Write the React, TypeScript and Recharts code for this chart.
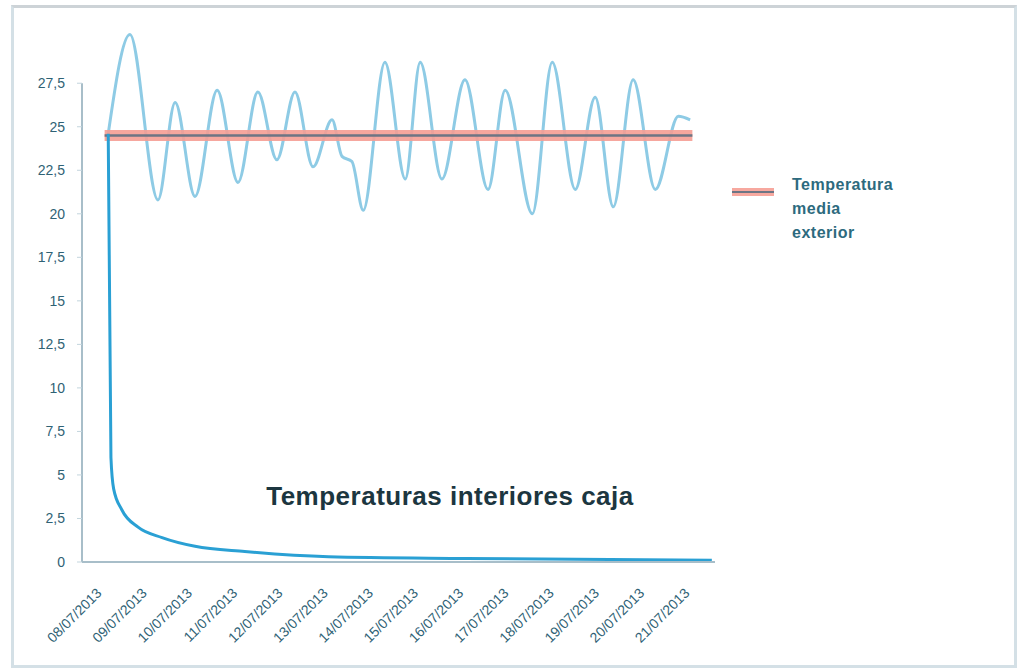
import React from 'react';
import { LineChart, Line, XAxis, YAxis, ReferenceLine } from 'recharts';

const dateLabels = [
  '08/07/2013', '09/07/2013', '10/07/2013', '11/07/2013', '12/07/2013', '13/07/2013', '14/07/2013',
  '15/07/2013', '16/07/2013', '17/07/2013', '18/07/2013', '19/07/2013', '20/07/2013', '21/07/2013',
];
const dayTicks = [0, 1, 2, 3, 4, 5, 6, 7, 8, 9, 10, 11, 12, 13];
const tempTicks = [0, 2.5, 5, 7.5, 10, 12.5, 15, 17.5, 20, 22.5, 25, 27.5];

// Outside temperature (light blue oscillating line)
const exteriorDays = [0.08, 0.56, 1.18, 1.56, 2.0, 2.49, 2.95, 3.39, 3.81, 4.21, 4.61, 5.03, 5.25, 5.47, 5.72, 6.2, 6.65, 6.98, 7.46, 7.97, 8.48, 8.86, 9.46, 9.9, 10.41, 10.85, 11.25, 11.69, 12.18, 12.69, 12.95];
const exteriorTemps = [24.6, 30.3, 20.8, 26.4, 21.0, 27.1, 21.8, 27.0, 23.1, 27.0, 22.7, 25.4, 23.3, 23.0, 20.2, 28.7, 22.0, 28.7, 22.0, 27.7, 21.4, 27.1, 20.0, 28.7, 21.4, 26.7, 20.4, 27.7, 21.4, 25.6, 25.4];

// Interior box temperature (dark blue decaying curve)
const interiorDays = [0.08, 0.14, 0.2, 0.38, 0.74, 1.27, 2.0, 3.1, 4.95, 8.0, 13.43];
const interiorTemps = [24.6, 6.0, 4.2, 3.0, 2.0, 1.4, 0.9, 0.6, 0.3, 0.2, 0.1];

// Mean outside temperature (red line)
const meanDays = [0, 13];
const meanTemps = [24.5, 24.5];
const meanName = 'Temperatura media exterior';
const chartTitle = 'Temperaturas interiores caja';

const exteriorData = exteriorDays.map((d, i) => ({ d, v: exteriorTemps[i] }));
const interiorData = interiorDays.map((d, i) => ({ d, v: interiorTemps[i] }));
const meanData = meanDays.map((d, i) => ({ d, v: meanTemps[i] }));

const FONT = '"Liberation Sans", Arial, sans-serif';
const TICK_COLOR = '#2f6275';

const XTick = (props: any) => {
  const { x, y, payload } = props;
  const ax = x - 2;
  const ay = y + 24;
  return (
    <text
      x={ax}
      y={ay}
      transform={`rotate(-45, ${ax}, ${ay})`}
      textAnchor="end"
      fontSize={14}
      fontFamily={FONT}
      fill={TICK_COLOR}
    >
      {dateLabels[payload.value]}
    </text>
  );
};

const LegendBox = () => (
  <div style={{ position: 'absolute', left: 727, top: 170, fontFamily: FONT, display: 'flex', alignItems: 'flex-start' }}>
    <svg width={50} height={30} style={{ display: 'block' }}>
      <line x1={5} y1={22} x2={47} y2={22} stroke="#f7a89f" strokeWidth={8} />
      <line x1={5} y1={22} x2={47} y2={22} stroke="#6d7584" strokeWidth={2} />
    </svg>
    <div style={{ marginLeft: 15, marginTop: 3 }}>
      {meanName.split(' ').map((w) => (
        <div
          key={w}
          style={{ fontSize: 16, fontWeight: 'bold', letterSpacing: 0.5, lineHeight: '24px', color: '#2d6a7e' }}
        >
          {w}
        </div>
      ))}
    </div>
  </div>
);

export default function App() {
  return (
    <div style={{ position: 'absolute', left: 0, top: 0, width: 1023, height: 670, background: '#ffffff' }}>
      <div
        style={{
          position: 'absolute',
          left: 11,
          top: 5,
          width: 1000,
          height: 657,
          border: '3px solid #d4e0e6',
          borderTopColor: '#cdd3d7',
        }}
      />
      <div style={{ position: 'absolute', left: 0, top: 0 }}>
        <LineChart width={1023} height={670} margin={{ top: 31, right: 308, left: 0, bottom: 0 }}>
          <XAxis
            type="number"
            dataKey="d"
            domain={[-0.5, 13.5]}
            ticks={dayTicks}
            interval={0}
            height={108}
            tick={<XTick />}
            tickLine={false}
            axisLine={{ stroke: '#a8bec9', strokeWidth: 2 }}
          />
          <YAxis
            type="number"
            dataKey="v"
            domain={[0, 30.5]}
            ticks={tempTicks}
            interval={0}
            width={82}
            axisLine={false}
            tickLine={{ stroke: '#c3d5dd' }}
            tickSize={5}
            tickMargin={12}
            tickFormatter={(v: number) => String(v).replace('.', ',')}
            tick={{ fontSize: 14, fontFamily: FONT, fill: TICK_COLOR }}
          />
          <ReferenceLine
            segment={[{ x: -0.5, y: 0 }, { x: -0.5, y: 27.5 }]}
            stroke="#a8bec9"
            strokeWidth={2}
            ifOverflow="visible"
          />
          <Line
            data={exteriorData}
            dataKey="v"
            name="Temperatura exterior"
            type="monotone"
            stroke="#8ecbe5"
            strokeWidth={3}
            dot={false}
            legendType="none"
            isAnimationActive={false}
          />
          <Line
            data={meanData}
            dataKey="v"
            name={meanName}
            type="linear"
            stroke="#f59d93"
            strokeWidth={11}
            strokeOpacity={0.9}
            dot={false}
            isAnimationActive={false}
          />
          <Line
            data={meanData}
            dataKey="v"
            name="media-centro"
            type="linear"
            stroke="#6d7584"
            strokeWidth={2.5}
            dot={false}
            legendType="none"
            isAnimationActive={false}
          />
          <Line
            data={interiorData}
            dataKey="v"
            name={chartTitle}
            type="monotone"
            stroke="#2aa0d4"
            strokeWidth={3}
            dot={false}
            legendType="none"
            isAnimationActive={false}
          />
        </LineChart>
      </div>
      <LegendBox />
      <div
        style={{
          position: 'absolute',
          left: 200,
          top: 481,
          width: 500,
          textAlign: 'center',
          fontFamily: FONT,
          fontSize: 26,
          fontWeight: 'bold',
          letterSpacing: 0.5,
          lineHeight: '30px',
          color: '#1c3640',
        }}
      >
        {chartTitle}
      </div>
    </div>
  );
}
